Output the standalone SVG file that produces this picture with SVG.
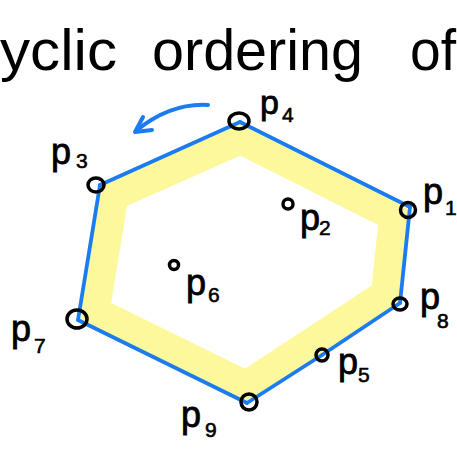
<svg xmlns="http://www.w3.org/2000/svg" width="457" height="451" viewBox="0 0 457 451">
<defs>
<style>
.title{font-family:"Liberation Sans","DejaVu Sans",sans-serif;font-size:58px;fill:#000}
.lbl{font-family:"Liberation Sans","DejaVu Sans",sans-serif;font-size:36px;fill:#000;stroke:#000;stroke-width:0.8}
.sub{font-family:"Liberation Sans","DejaVu Sans",sans-serif;font-size:21px;fill:#000;stroke:#000;stroke-width:0.6}
.pt{fill:none;stroke:#000;stroke-width:3.5}
.edge{stroke:#1b7cf2;stroke-width:3.8;stroke-linecap:round;fill:none}
.hl{fill:none;stroke:#fdf89c;stroke-width:30;stroke-linejoin:round}
.arrow{fill:none;stroke:#1b7cf2;stroke-width:4;stroke-linecap:round;stroke-linejoin:round}
</style>
</defs>
<rect width="457" height="451" fill="#fff"/>
<text class="title" x="0" y="70" textLength="117" lengthAdjust="spacingAndGlyphs">yclic</text>
<text class="title" x="152" y="70" textLength="211" lengthAdjust="spacingAndGlyphs">ordering</text>
<text class="title" x="410" y="70" textLength="46" lengthAdjust="spacingAndGlyphs">of</text>
<path class="hl" d="M240.5 139 L394 216 L386 294 L246 386 L94.6 311.4 L113.5 195.5 Z"/>
<path class="arrow" d="M208 105 Q170 103 136 131"/>
<path class="arrow" d="M143 117 L135 132 L152 130"/>
<g id="connectors">
<line class="edge" x1="240" y1="122" x2="410" y2="207"/>
<line class="edge" x1="410" y1="207" x2="400" y2="303"/>
<line class="edge" x1="400" y1="303" x2="322" y2="355"/>
<line class="edge" x1="322" y1="355" x2="247" y2="403"/>
<line class="edge" x1="247" y1="403" x2="78" y2="320"/>
<line class="edge" x1="78" y1="320" x2="100" y2="185"/>
<line class="edge" x1="100" y1="185" x2="240" y2="122"/>
</g>
<g id="p4"><ellipse class="pt" cx="239" cy="121" rx="10" ry="8"/><text class="lbl" x="260" y="114" style="font-size:34px">p</text><text class="sub" x="282" y="122">4</text></g>
<g id="p3"><ellipse class="pt" cx="96" cy="185" rx="8" ry="7"/><text class="lbl" x="51" y="164">p</text><text class="sub" x="76" y="168">3</text></g>
<g id="p1"><ellipse class="pt" cx="408" cy="210" rx="7.5" ry="7.5"/><text class="lbl" x="423" y="204">p</text><text class="sub" x="445" y="215">1</text></g>
<g id="p2"><ellipse class="pt" cx="288" cy="204" rx="5" ry="5"/><text class="lbl" x="300" y="230">p</text><text class="sub" x="319" y="235">2</text></g>
<g id="p6"><ellipse class="pt" cx="174" cy="265" rx="4.5" ry="4.5"/><text class="lbl" x="186" y="295">p</text><text class="sub" x="208" y="302">6</text></g>
<g id="p8"><ellipse class="pt" cx="400" cy="304" rx="7" ry="6"/><text class="lbl" x="420" y="309">p</text><text class="sub" x="437" y="328">8</text></g>
<g id="p5"><ellipse class="pt" cx="322" cy="355" rx="6" ry="6"/><text class="lbl" x="338" y="374">p</text><text class="sub" x="358" y="382">5</text></g>
<g id="p9"><ellipse class="pt" cx="249" cy="402" rx="8" ry="8"/><text class="lbl" x="181" y="427">p</text><text class="sub" x="205" y="437">9</text></g>
<g id="p7"><ellipse class="pt" cx="77" cy="319" rx="10" ry="9"/><text class="lbl" x="11" y="341">p</text><text class="sub" x="34" y="353">7</text></g>
</svg>
